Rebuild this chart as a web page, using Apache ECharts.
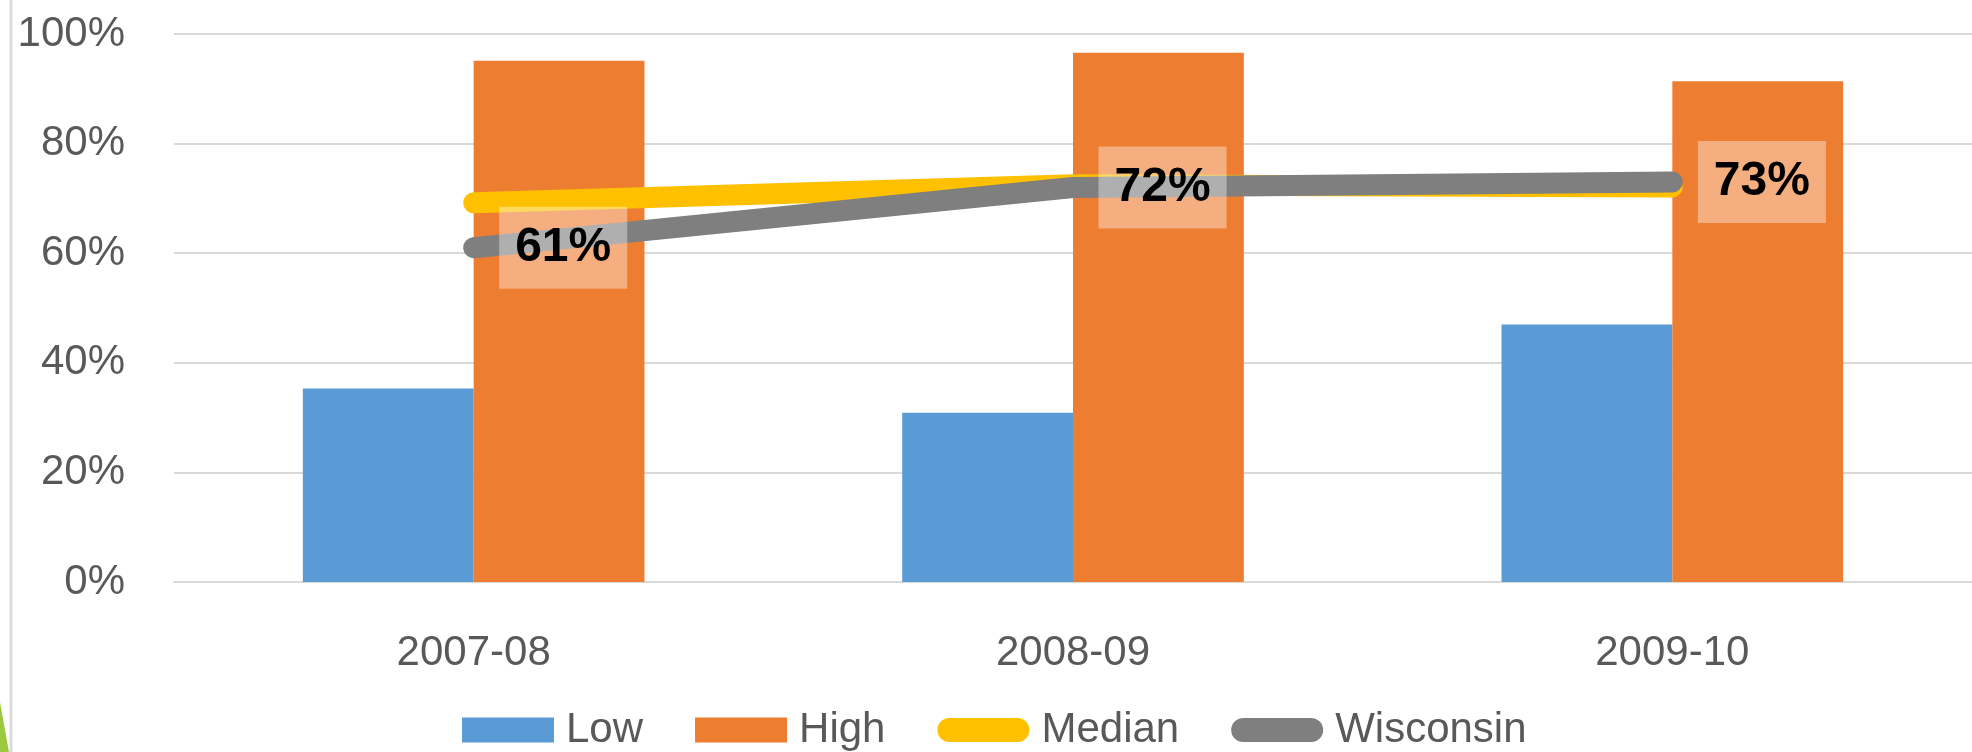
<!DOCTYPE html>
<html>
<head>
<meta charset="utf-8">
<title>Low / High / Median / Wisconsin</title>
<script src="https://cdn.jsdelivr.net/npm/echarts@6/dist/echarts.min.js"></script>
<style>
  html, body { margin: 0; padding: 0; background: #fff; }
  #chart { width: 1972px; height: 752px; }
</style>
</head>
<body>
<div id="chart"></div>
<script>
// 数据
var years = ['2007-08', '2008-09', '2009-10'];
var lowData = [0.353, 0.309, 0.470];
var highData = [0.951, 0.966, 0.914];
var medianData = [0.692, 0.725, 0.721];
var wisconsinData = [0.61, 0.72, 0.73];
var yTicks = [0, 0.2, 0.4, 0.6, 0.8, 1];

var grayText = '#595959';
var gridColor = '#d9d9d9';
var capsule = 'path://M12,0L80,0A12,12,0,0,1,80,24L12,24A12,12,0,0,1,12,0Z';

function pct(v) {
    return Math.round(v * 100) + '%';
}

var chart = echarts.init(document.getElementById('chart'));
var option = {
    animation: false,
    textStyle: { fontFamily: 'Liberation Sans, Arial, sans-serif' },
    grid: {
        left: 174,
        right: -28,   // plot runs past the right edge, like the slide
        top: 34,
        bottom: 170
    },
    legend: {
        left: 462,
        top: 709,
        padding: 0,
        itemWidth: 92,
        itemHeight: 25,
        itemGap: 52,
        itemStyle: { borderWidth: 0 },
        textStyle: { fontSize: 42, color: grayText, padding: [0, 0, 0, 7] },
        data: [
            { name: 'Low', icon: 'rect' },
            { name: 'High', icon: 'rect' },
            { name: 'Median', icon: capsule },
            { name: 'Wisconsin', icon: capsule }
        ]
    },
    xAxis: {
        type: 'category',
        data: years,
        axisTick: { show: false },
        axisLine: { lineStyle: { color: gridColor, width: 2 } },
        axisLabel: { fontSize: 42, color: grayText, margin: 50 }
    },
    yAxis: {
        type: 'value',
        min: yTicks[0],
        max: yTicks[yTicks.length - 1],
        interval: 0.2,
        axisLine: { show: false },
        axisTick: { show: false },
        splitLine: { lineStyle: { color: gridColor, width: 2 } },
        axisLabel: { fontSize: 42, color: grayText, margin: 49, formatter: pct }
    },
    graphic: [
        // slide decoration on the left
        {
            type: 'line',
            shape: { x1: 11, y1: 0, x2: 11, y2: 752 },
            style: { stroke: '#dcdcdc', lineWidth: 3 }
        },
        {
            type: 'polygon',
            shape: { points: [[0, 702], [0, 752], [9, 752]] },
            style: { fill: '#9bc940' }
        }
    ],
    series: [
        {
            name: 'Low',
            type: 'bar',
            data: lowData,
            barGap: '0%',
            barCategoryGap: '43%',
            itemStyle: { color: '#5b9bd5' }
        },
        {
            name: 'High',
            type: 'bar',
            data: highData,
            barGap: '0%',
            barCategoryGap: '43%',
            itemStyle: { color: '#ed7d31' }
        },
        {
            name: 'Median',
            type: 'line',
            data: medianData,
            symbol: 'none',
            lineStyle: { color: '#ffc000', width: 21, cap: 'round', join: 'round' },
            itemStyle: { color: '#ffc000' }
        },
        {
            name: 'Wisconsin',
            type: 'line',
            data: wisconsinData,
            symbol: 'circle',
            symbolSize: 1,
            showSymbol: true,
            lineStyle: { color: '#7f7f7f', width: 21, cap: 'round', join: 'round' },
            itemStyle: { color: '#7f7f7f' },
            label: {
                show: true,
                position: 'right',
                distance: 25,
                formatter: function (p) { return pct(p.value); },
                fontSize: 48,
                fontWeight: 'bold',
                color: '#000',
                backgroundColor: 'rgba(255,255,255,0.38)',
                padding: [18, 16, 16, 16]
            }
        }
    ]
};
chart.setOption(option);
</script>
</body>
</html>
